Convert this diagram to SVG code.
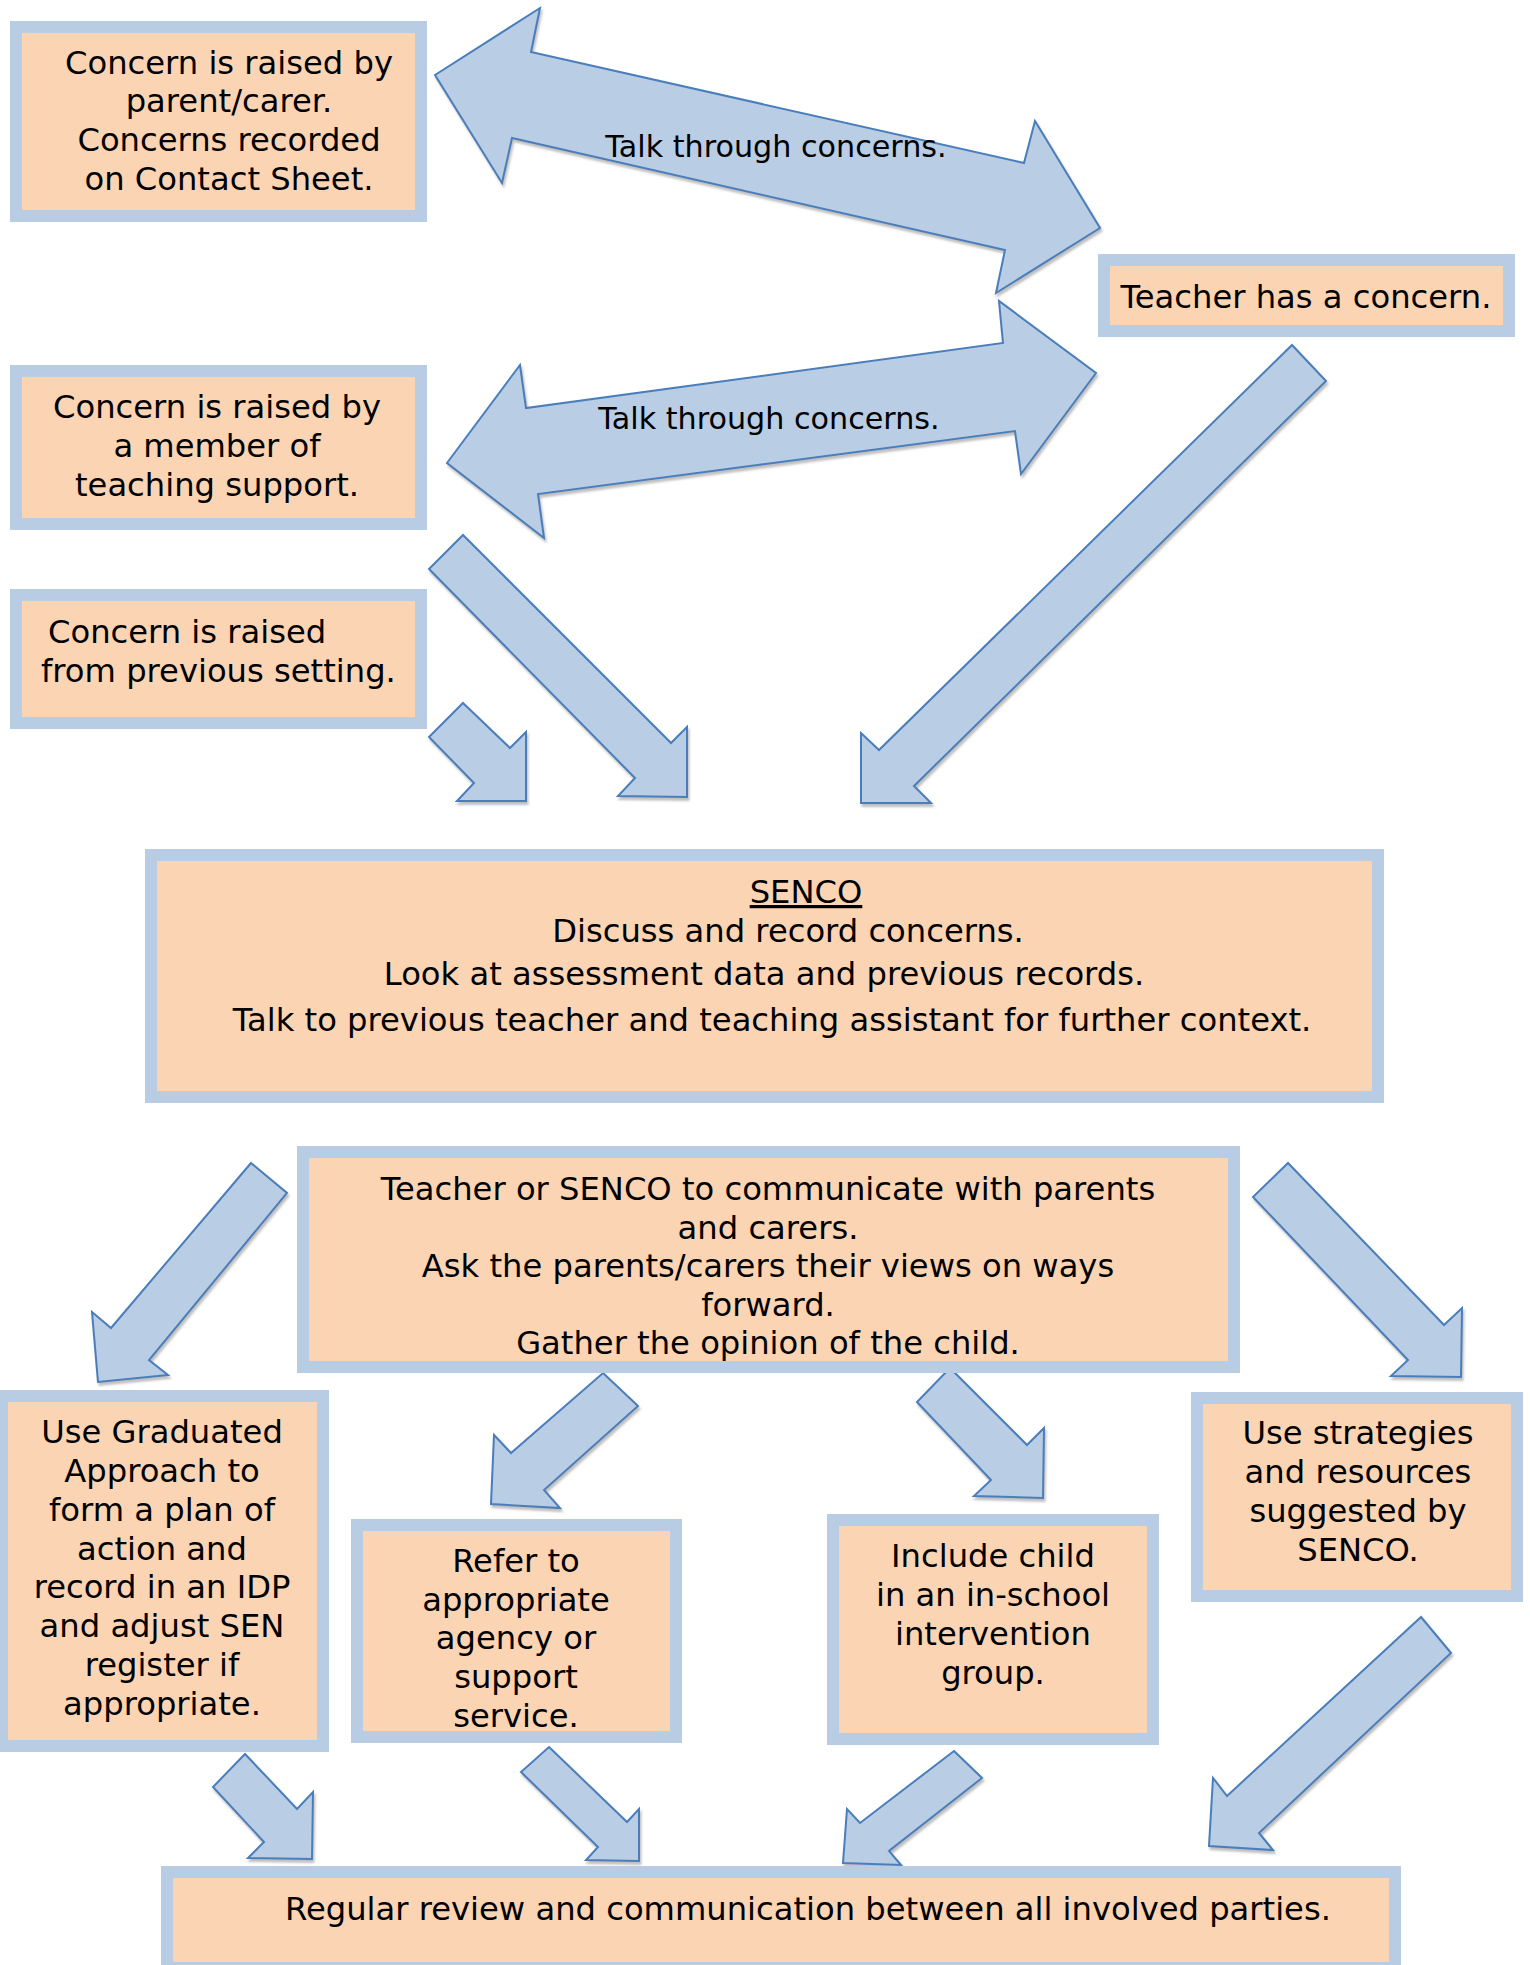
<svg xmlns="http://www.w3.org/2000/svg" width="1530" height="1965" viewBox="0 0 1530 1965">
<style>
.box{fill:#FBD4B4;stroke:#B8CCE4;stroke-width:12}
.arr{fill:#B9CDE5;stroke:#4A7EBB;stroke-width:2;stroke-linejoin:miter;filter:url(#sh)}
text{font-family:"DejaVu Sans","Verdana",sans-serif;font-size:32.2px;fill:#000}
.c{text-anchor:middle}
.lbl{font-size:30.2px}
</style>
<defs>
<filter id="sh" x="-10%" y="-10%" width="120%" height="120%">
<feDropShadow dx="1.5" dy="3" stdDeviation="0.8" flood-color="#8c8c8c" flood-opacity="0.55"/>
</filter>
</defs>
<rect width="1530" height="1965" fill="#fff"/>
<g id="connectors">
<polygon class="arr" points="435,75 540,8 531,52 1024,163 1035,121 1100,228 996,293 1005,250 512,138 502,183"/>
<polygon class="arr" points="447,463 520,365 526,408 1003,343 999,301 1096,373 1021,474 1015,431 538,494 544,538"/>
<polygon class="arr" points="463,535 671,743 687,727 687,797 618,796 635,778 429,569"/>
<polygon class="arr" points="463,703 510,748 526,732 526,801 457,801 474,783 429,737"/>
<polygon class="arr" points="1292,345 1326,381 914,786 931,803 861,803 861,733 879,750"/>
<polygon class="arr" points="251,1163 287,1193 149,1360 168,1375 98,1382 92,1312 111,1328"/>
<polygon class="arr" points="603,1373 638,1406 544,1490 560,1508 491,1504 494,1435 511,1453"/>
<polygon class="arr" points="950,1368 1027,1445 1044,1428 1043,1498 974,1496 991,1480 917,1402"/>
<polygon class="arr" points="1288,1163 1444,1325 1462,1308 1461,1377 1391,1376 1408,1360 1253,1197"/>
<polygon class="arr" points="1421,1617 1451,1653 1259,1833 1273,1850 1209,1846 1213,1778 1227,1796"/>
<polygon class="arr" points="245,1754 297,1809 313,1792 312,1859 248,1858 264,1842 213,1787"/>
<polygon class="arr" points="549,1747 627,1822 639,1809 639,1861 586,1860 598,1847 521,1772"/>
<polygon class="arr" points="954,1751 982,1778 889,1851 901,1865 843,1863 847,1809 860,1823"/>
<text class="lbl c" x="776" y="157">Talk through concerns.</text>
<text class="lbl c" x="769" y="429">Talk through concerns.</text>
</g>
<g id="parent">
<rect class="box" x="16" y="27" width="405" height="189"/>
<text class="c" x="229" y="74">Concern is raised by</text>
<text class="c" x="229" y="112">parent/carer.</text>
<text class="c" x="229" y="151">Concerns recorded</text>
<text class="c" x="229" y="190">on Contact Sheet.</text>
</g>
<g id="teacher">
<rect class="box" x="1104" y="260" width="405" height="71"/>
<text class="c" x="1306" y="308">Teacher has a concern.</text>
</g>
<g id="support">
<rect class="box" x="16" y="371" width="405" height="153"/>
<text class="c" x="217" y="418">Concern is raised by</text>
<text class="c" x="217" y="457">a member of</text>
<text class="c" x="217" y="496">teaching support.</text>
</g>
<g id="previous">
<rect class="box" x="16" y="595" width="405" height="128"/>
<text x="48" y="643">Concern is raised</text>
<text x="41" y="682">from previous setting.</text>
</g>
<g id="senco">
<rect class="box" x="151" y="855" width="1227" height="242"/>
<text class="c" x="806" y="903" text-decoration="underline">SENCO</text>
<text class="c" x="788" y="942">Discuss and record concerns.</text>
<text class="c" x="764" y="985">Look at assessment data and previous records.</text>
<text class="c" x="772" y="1031">Talk to previous teacher and teaching assistant for further context.</text>
</g>
<g id="communicate">
<rect class="box" x="303" y="1152" width="931" height="215"/>
<text class="c" x="768" y="1200">Teacher or SENCO to communicate with parents</text>
<text class="c" x="768" y="1239">and carers.</text>
<text class="c" x="768" y="1277">Ask the parents/carers their views on ways</text>
<text class="c" x="768" y="1316">forward.</text>
<text class="c" x="768" y="1354">Gather the opinion of the child.</text>
</g>
<g id="graduated">
<rect class="box" x="2" y="1396" width="321" height="350"/>
<text class="c" x="162" y="1443">Use Graduated</text>
<text class="c" x="162" y="1482">Approach to</text>
<text class="c" x="162" y="1521">form a plan of</text>
<text class="c" x="162" y="1560">action and</text>
<text class="c" x="162" y="1598">record in an IDP</text>
<text class="c" x="162" y="1637">and adjust SEN</text>
<text class="c" x="162" y="1676">register if</text>
<text class="c" x="162" y="1715">appropriate.</text>
</g>
<g id="refer">
<rect class="box" x="357" y="1525" width="319" height="212"/>
<text class="c" x="516" y="1572">Refer to</text>
<text class="c" x="516" y="1611">appropriate</text>
<text class="c" x="516" y="1649">agency or</text>
<text class="c" x="516" y="1688">support</text>
<text class="c" x="516" y="1727">service.</text>
</g>
<g id="include">
<rect class="box" x="833" y="1520" width="320" height="219"/>
<text class="c" x="993" y="1567">Include child</text>
<text class="c" x="993" y="1606">in an in-school</text>
<text class="c" x="993" y="1645">intervention</text>
<text class="c" x="993" y="1684">group.</text>
</g>
<g id="strategies">
<rect class="box" x="1197" y="1398" width="320" height="198"/>
<text class="c" x="1358" y="1444">Use strategies</text>
<text class="c" x="1358" y="1483">and resources</text>
<text class="c" x="1358" y="1522">suggested by</text>
<text class="c" x="1358" y="1561">SENCO.</text>
</g>
<g id="review">
<rect class="box" x="167" y="1872" width="1228" height="96"/>
<text class="c" x="808" y="1920">Regular review and communication between all involved parties.</text>
</g>
</svg>
